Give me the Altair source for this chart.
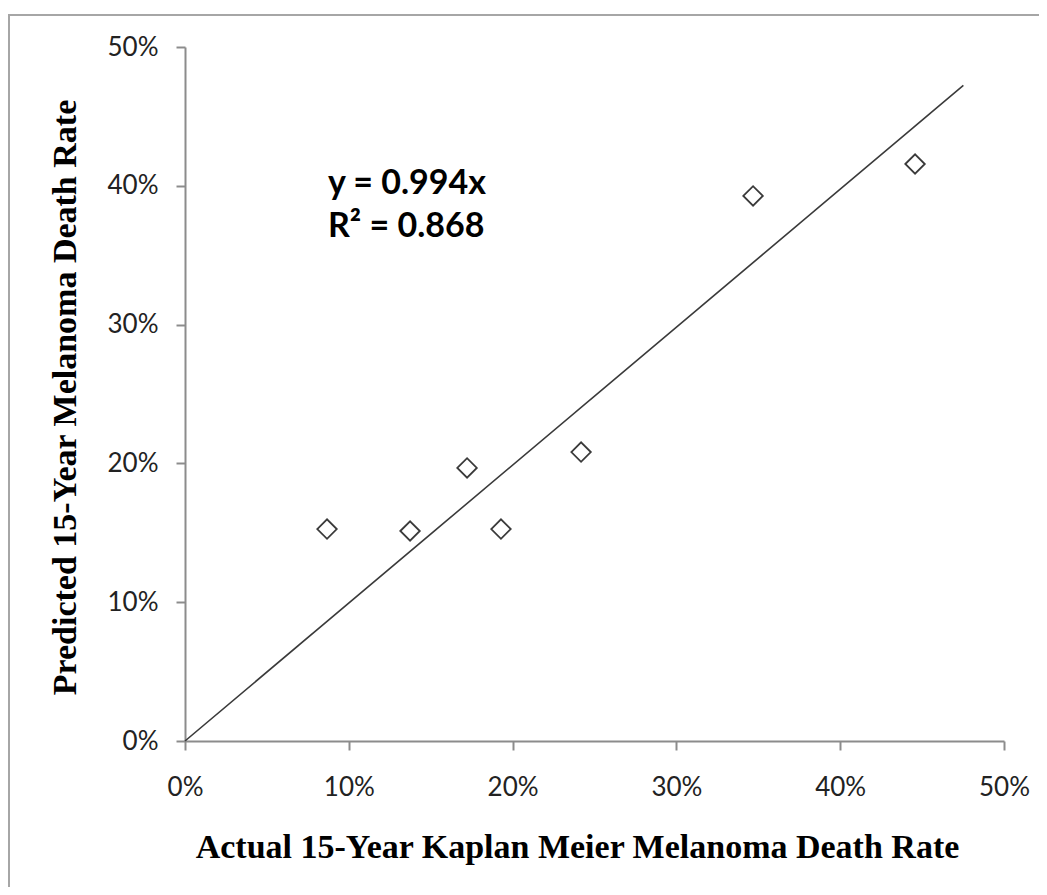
import altair as alt
import pandas as pd

# Data
actual = [0.0867, 0.1374, 0.1722, 0.1929, 0.2418, 0.3468, 0.4457]
predicted = [0.1527, 0.1513, 0.1967, 0.1527, 0.2082, 0.3927, 0.4157]

trend_x = [0.0, 0.4752]
trend_y = [0.0, 0.4723]

ann_text = ["y = 0.994x", "R\u00b2 = 0.868"]
ann_x = [0.0873, 0.0873]
ann_y = [0.401, 0.3705]

ticks = [0.0, 0.1, 0.2, 0.3, 0.4, 0.5]

pts = pd.DataFrame({"actual": actual, "predicted": predicted})
trend = pd.DataFrame({"actual": trend_x, "predicted": trend_y})
ann = pd.DataFrame({"actual": ann_x, "predicted": ann_y, "text": ann_text})

W, H = 819, 694

xscale = alt.Scale(domain=[0, 0.5], nice=False, zero=False)
yscale = alt.Scale(domain=[0, 0.5], nice=False, zero=False)

xaxis = alt.Axis(
    values=ticks, format=".0%", grid=False, labelFlush=False,
    title="Actual 15-Year Kaplan Meier Melanoma Death Rate",
    titleX=392, titleY=106, titleAlign="center", titleBaseline="middle",
    titleFont="Liberation Serif", titleFontSize=34, titleFontWeight="bold",
    titleColor="#000000",
    labelPadding=24,
)
yaxis = alt.Axis(
    values=ticks, format=".0%", grid=False, labelFlush=False,
    title="Predicted 15-Year Melanoma Death Rate",
    titleX=-120, titleY=350, titleAlign="center", titleBaseline="middle",
    titleAngle=270,
    titleFont="Liberation Serif", titleFontSize=34, titleFontWeight="bold",
    titleColor="#000000",
    labelPadding=18,
)

frame = alt.Chart(pd.DataFrame({"a": [0]})).mark_rect(
    fill="transparent", stroke="#a6a6a6", strokeWidth=2
).encode(
    x=alt.value(-176), x2=alt.value(880),
    y=alt.value(-32), y2=alt.value(870),
)

line = alt.Chart(trend).mark_line(color="#3a3a3a", strokeWidth=1.6).encode(
    x=alt.X("actual:Q", scale=xscale, axis=xaxis),
    y=alt.Y("predicted:Q", scale=yscale, axis=yaxis),
)

points = alt.Chart(pts).mark_point(
    shape="diamond", size=380, filled=False, fill="white", fillOpacity=1,
    stroke="#3a3a3a", strokeWidth=1.8, opacity=1,
).encode(
    x=alt.X("actual:Q", scale=xscale),
    y=alt.Y("predicted:Q", scale=yscale),
)

text = alt.Chart(ann).mark_text(
    align="left", baseline="middle", font="Lato", fontSize=34,
    fontWeight="bold", color="#000000",
).encode(
    x=alt.X("actual:Q", scale=xscale),
    y=alt.Y("predicted:Q", scale=yscale),
    text="text:N",
)

chart = alt.layer(frame, line, points, text).properties(
    width=W, height=H,
    autosize=alt.AutoSizeParams(type="none"),
    padding={"left": 177, "top": 39, "right": 35, "bottom": 146},
    background="white",
).configure_view(
    stroke=None
).configure_axis(
    domainColor="#8c8c8c", domainWidth=2,
    tickColor="#8c8c8c", tickWidth=2, tickSize=9,
    labelFont="Lato", labelFontSize=26, labelColor="#222222",
)

chart.save("out.html", embed_options={"renderer": "svg", "actions": False})
